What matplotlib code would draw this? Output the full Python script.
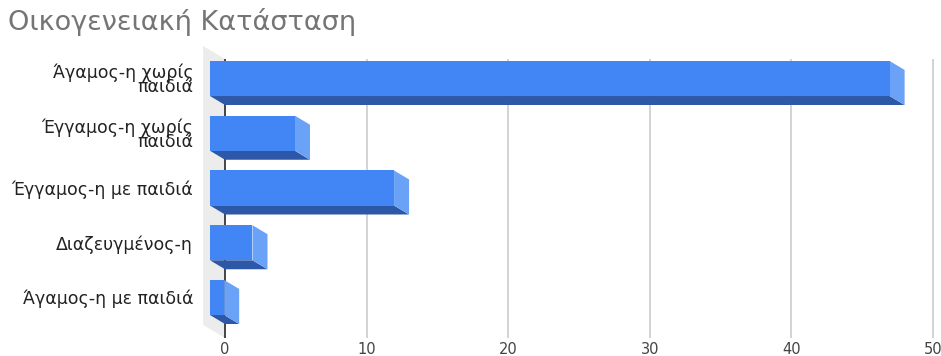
import matplotlib
matplotlib.use("Agg")
import matplotlib.pyplot as plt
from matplotlib.patches import Polygon

plt.rcParams['font.family'] = ['DejaVu Sans']

# Marital status counts
categories = [
    "Άγαμος-η χωρίς\nπαιδιά",
    "Έγγαμος-η χωρίς\nπαιδιά",
    "Έγγαμος-η με παιδιά",
    "Διαζευγμένος-η",
    "Άγαμος-η με παιδιά",
]
counts = [48, 6, 13, 3, 1]
x_ticks = [0, 10, 20, 30, 40, 50]

FRONT = "#4285f4"
BOTTOM = "#2c58a7"
SIDE = "#6aa2f7"
WALL = "#ececec"

# fake 3d depth (data units)
dx, dy = 1.06, 0.164
bar_h = 0.64
wall_dx, wall_dy = 1.55, 0.238

fig = plt.figure(figsize=(9.41, 3.56), dpi=100)
ax = fig.add_axes([196 / 941, 16 / 356, 744 / 941, 300 / 356])
ax.set_xlim(-2.05, 50.5)
ax.set_ylim(4.776, -0.703)
ax.axis("off")

y_top, y_bot = -0.356, 4.74

# side wall on the left
ax.add_patch(Polygon([(-wall_dx, y_top - wall_dy), (0, y_top), (0, y_bot),
                      (-wall_dx, y_bot - wall_dy)], closed=True,
                     facecolor=WALL, edgecolor="none", zorder=1))

# back gridlines and zero axis
for t in x_ticks:
    color = "#444444" if t == 0 else "#cccccc"
    lw = 1.4 if t == 0 else 1.2
    ax.plot([t, t], [y_top, y_bot], color=color, lw=lw, zorder=2,
            solid_capstyle="butt")
    ax.text(t, y_bot + 0.08, str(t), ha="center", va="top", fontsize=10.5,
            color="#444444")

for i, v in enumerate(counts):
    top, bot = i - bar_h / 2, i + bar_h / 2
    # underside
    ax.add_patch(Polygon([(-dx, bot), (v - dx, bot), (v, bot + dy), (0, bot + dy)],
                         closed=True, facecolor=BOTTOM, edgecolor="none", zorder=3))
    # right end
    ax.add_patch(Polygon([(v - dx, top), (v, top + dy), (v, bot + dy), (v - dx, bot)],
                         closed=True, facecolor=SIDE, edgecolor="none", zorder=3))
    # front face
    ax.add_patch(Polygon([(-dx, top), (v - dx, top), (v - dx, bot), (-dx, bot)],
                         closed=True, facecolor=FRONT, edgecolor="none", zorder=4))
    ax.text(-2.25, i + 0.03, categories[i], ha="right", va="center", fontsize=12.5,
            color="#222222", linespacing=0.72)

fig.text(8 / 941, 1 - 22 / 356, "Οικογενειακή Κατάσταση", ha="left",
         va="center", fontsize=19.5, color="#757575")

fig.savefig("out.png", dpi=100)
